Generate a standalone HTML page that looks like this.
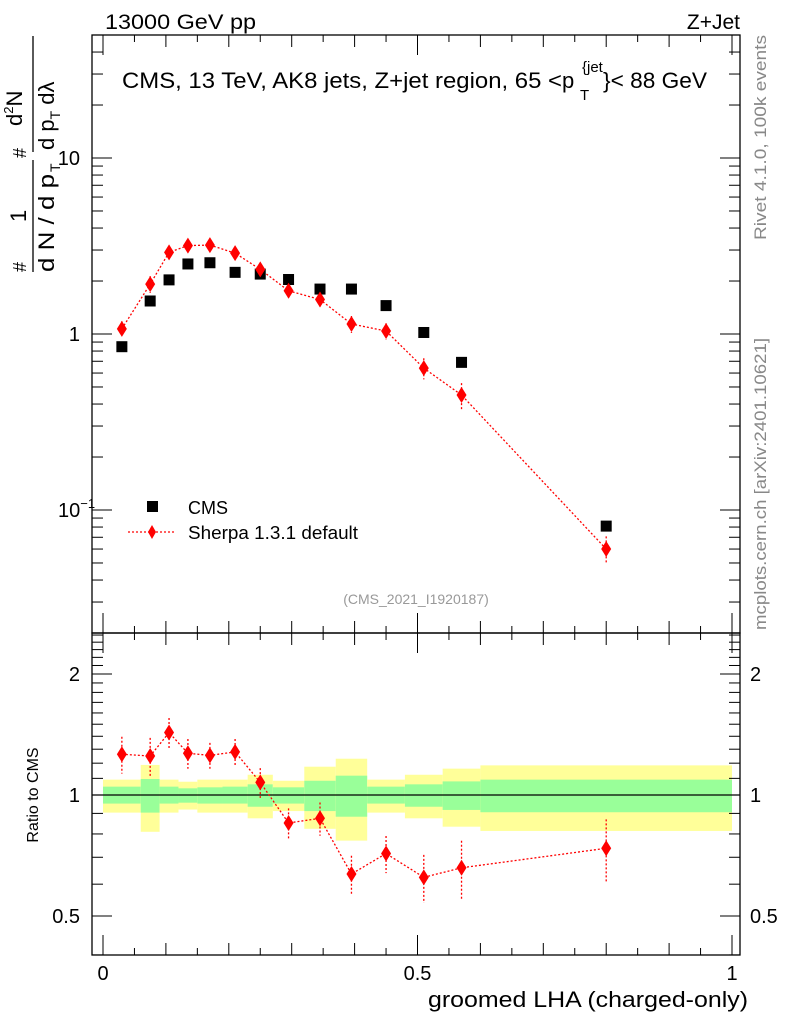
<!DOCTYPE html>
<html><head><meta charset="utf-8"><style>
html,body{margin:0;padding:0;background:#fff;}
svg{display:block;font-family:"Liberation Sans",Arial,sans-serif;}
</style></head><body>
<svg id="chart" width="786" height="1024" viewBox="0 0 786 1024" xmlns="http://www.w3.org/2000/svg">
<g id="bands"></g>
<g id="grid"></g>
<g id="marks"></g>
<text x="105" y="29" font-size="21" textLength="151" lengthAdjust="spacingAndGlyphs">13000 GeV pp</text>
<text x="740" y="29" font-size="21" text-anchor="end">Z+Jet</text>
<g font-size="22">
<text x="122" y="88" textLength="440" lengthAdjust="spacingAndGlyphs">CMS, 13 TeV, AK8 jets, Z+jet region, 65 &lt;</text>
<text x="562" y="88">p</text>
<text x="582" y="72" font-size="15">{jet</text>
<text x="580" y="100" font-size="15">T</text>
<text x="603" y="88" textLength="104" lengthAdjust="spacingAndGlyphs">}&lt; 88 GeV</text>
</g>
<text transform="translate(766,240) rotate(-90)" font-size="17" fill="#888" textLength="205" lengthAdjust="spacingAndGlyphs">Rivet 4.1.0,  100k events</text>
<text transform="translate(766,630) rotate(-90)" font-size="17" fill="#888" textLength="292" lengthAdjust="spacingAndGlyphs">mcplots.cern.ch [arXiv:2401.10621]</text>
<text x="416" y="604" font-size="14" fill="#999" text-anchor="middle">(CMS_2021_I1920187)</text>
<g transform="rotate(-90)" font-size="22">
<text x="-272" y="26" font-size="18">#</text>
<text x="-222" y="26">1</text>
<line x1="-272" y1="33" x2="-160" y2="33" stroke="#000" stroke-width="1.3"/>
<text x="-272" y="54" textLength="98" lengthAdjust="spacingAndGlyphs">d N / d p</text>
<text x="-172" y="60" font-size="14">T</text>
<text x="-158" y="26" font-size="18">#</text>
<text x="-126" y="22">d<tspan font-size="13" dy="-9">2</tspan><tspan dy="9">N</tspan></text>
<line x1="-152" y1="33" x2="-36" y2="33" stroke="#000" stroke-width="1.3"/>
<text x="-150" y="54">d p<tspan font-size="14" dy="6">T</tspan><tspan dy="-6"> d</tspan>λ</text>
</g>
<text transform="translate(38,795) rotate(-90)" font-size="16" text-anchor="middle">Ratio to CMS</text>
<text x="748" y="1007" font-size="22" text-anchor="end" textLength="320" lengthAdjust="spacingAndGlyphs">groomed LHA (charged-only)</text>
<g>
<rect x="147" y="501" width="11" height="11" fill="#000"/>
<text x="188" y="514" font-size="18">CMS</text>
<line x1="128" y1="532" x2="176" y2="532" stroke="red" stroke-width="1.3" stroke-dasharray="2,2"/>
<path d="M152,525 L156,532 L152,539 L148,532 Z" fill="red"/>
<text x="188" y="539" font-size="18" textLength="170" lengthAdjust="spacingAndGlyphs">Sherpa 1.3.1 default</text>
</g>
</svg>
<script>
const binEdges=[0,0.06,0.09,0.12,0.15,0.19,0.23,0.27,0.32,0.37,0.42,0.48,0.54,0.6,1.0];
const lambdaCenters=[0.03,0.075,0.105,0.135,0.17,0.21,0.25,0.295,0.345,0.395,0.45,0.51,0.57,0.8];
const cmsValues=[0.847,1.54,2.03,2.50,2.54,2.24,2.19,2.04,1.80,1.80,1.45,1.02,0.69,0.081];
const sherpaValues=[1.07,1.92,2.91,3.18,3.20,2.88,2.33,1.76,1.57,1.14,1.04,0.64,0.45,0.06];
const sherpaRelErr=[0.105,0.11,0.087,0.085,0.074,0.077,0.085,0.087,0.095,0.11,0.106,0.137,0.168,0.18];
const ratioValues=[1.263,1.25,1.43,1.27,1.255,1.28,1.075,0.852,0.875,0.636,0.715,0.624,0.659,0.737];
const totalUp=[1.092,1.188,1.092,1.079,1.092,1.092,1.123,1.085,1.176,1.231,1.092,1.123,1.163,1.185];
const totalDn=[0.904,0.810,0.904,0.920,0.904,0.904,0.875,0.912,0.824,0.770,0.904,0.875,0.834,0.814];
const statUp=[1.049,1.096,1.049,1.039,1.045,1.049,1.063,1.045,1.085,1.117,1.049,1.063,1.081,1.092];
const statDn=[0.952,0.904,0.952,0.957,0.952,0.952,0.935,0.952,0.912,0.883,0.952,0.935,0.918,0.906];
const xTickLabels=["0","0.5","1"];
const mainTickLabels=["10","1","10"];
const ratioTickLabels=["2","1","0.5"];

const NS="http://www.w3.org/2000/svg";
const FL=92,FR=740,T1=35,B1=633,B2=955;
const X=v=>103+v*629;
const Y1=v=>334-Math.log10(v)*176;
const Y2=v=>795-Math.log2(v)*121;
function mk(tag,attrs,parent){const e=document.createElementNS(NS,tag);for(const k in attrs)e.setAttribute(k,attrs[k]);parent.appendChild(e);return e;}
const bands=document.getElementById('bands'),grid=document.getElementById('grid'),marks=document.getElementById('marks');

for(let i=0;i<lambdaCenters.length;i++){
  const x0=X(binEdges[i]),x1=X(binEdges[i+1]);
  const y=mk('rect',{x:x0,y:Y2(totalUp[i]),width:x1-x0,height:Y2(totalDn[i])-Y2(totalUp[i]),fill:'#ffff99'},bands);
  
  
  const g=mk('rect',{x:x0,y:Y2(statUp[i]),width:x1-x0,height:Y2(statDn[i])-Y2(statUp[i]),fill:'#99ff99'},bands);
  
  
}
const f1=mk('rect',{x:FL,y:T1,width:FR-FL,height:B1-T1,fill:'none',stroke:'#000','stroke-width':1.3},grid);


const f2=mk('rect',{x:FL,y:B1,width:FR-FL,height:B2-B1,fill:'none',stroke:'#000','stroke-width':1.3},grid);


const ref=mk('line',{x1:FL,x2:FR,y1:Y2(1),y2:Y2(1),stroke:'#000','stroke-width':1.2},grid);


for(let k=0;k<=20;k++){
  const v=k*0.05,x=X(v);const len=k%10==0?20:(k%2==0?12:7);
  for(const [yb,yt] of [[B1,T1],[B2,B1]]){
    mk('line',{x1:x,x2:x,y1:yb,y2:yb-len,stroke:'#000'},grid);
    mk('line',{x1:x,x2:x,y1:yt,y2:yt+len,stroke:'#000'},grid);
  }
}
[0,0.5,1].forEach((v,i)=>{const t=mk('text',{x:X(v),y:980,'font-size':20,'text-anchor':'middle'},grid);t.textContent=xTickLabels[i];

});
for(let d=-2;d<=1;d++)for(let m=1;m<=9;m++){const v=m*Math.pow(10,d);const y=Y1(v);if(y<T1||y>B1)continue;const len=m==1?20:11;
  mk('line',{x1:FL,x2:FL+len,y1:y,y2:y,stroke:'#000'},grid);mk('line',{x1:FR,x2:FR-len,y1:y,y2:y,stroke:'#000'},grid);}
[10,1,0.1].forEach((v,i)=>{const t=mk('text',{x:i==2?58:80,y:Y1(v)+7,'font-size':20,'text-anchor':i==2?'start':'end'},grid);t.textContent=mainTickLabels[i];


if(i==2){const s=mk('tspan',{'font-size':13,dy:-9},t);s.textContent='−1';}});
for(let k=4;k<=25;k++){const v=k/10;const y=Y2(v);if(y<B1||y>B2)continue;const len=(k==5||k==10||k==20)?20:11;
  mk('line',{x1:FL,x2:FL+len,y1:y,y2:y,stroke:'#000'},grid);mk('line',{x1:FR,x2:FR-len,y1:y,y2:y,stroke:'#000'},grid);}
[2,1,0.5].forEach((v,i)=>{for(const [x,a] of [[80,'end'],[750,'start']]){const t=mk('text',{x:x,y:Y2(v)+7,'font-size':20,'text-anchor':a},grid);t.textContent=ratioTickLabels[i];

}});
function diamond(x,y,name){const p=mk('path',{d:`M${x},${y-8} L${x+5},${y} L${x},${y+8} L${x-5},${y} Z`,fill:'red'},marks);

}
const dash={stroke:'red','stroke-width':1.3,'stroke-dasharray':'2,2',fill:'none'};
mk('polyline',Object.assign({points:lambdaCenters.map((l,i)=>X(l)+','+Y1(sherpaValues[i])).join(' ')},dash),marks);
lambdaCenters.forEach((l,i)=>{
  const x=X(l);const r=mk('rect',{x:x-5.5,y:Y1(cmsValues[i])-5.5,width:11,height:11,fill:'#000'},marks);
  
  
  const v=sherpaValues[i],e=sherpaRelErr[i];
  mk('line',Object.assign({x1:x,x2:x,y1:Y1(v*(1+e)),y2:Y1(v*(1-e))},dash),marks);
  diamond(x,Y1(v),'sherpa-point');
});
mk('polyline',Object.assign({points:lambdaCenters.map((l,i)=>X(l)+','+Y2(ratioValues[i])).join(' ')},dash),marks);
lambdaCenters.forEach((l,i)=>{
  const x=X(l),v=ratioValues[i],e=sherpaRelErr[i];
  mk('line',Object.assign({x1:x,x2:x,y1:Y2(v*(1+e)),y2:Y2(v*(1-e))},dash),marks);
  diamond(x,Y2(v),'ratio-point');
});
</script>
</body></html>
